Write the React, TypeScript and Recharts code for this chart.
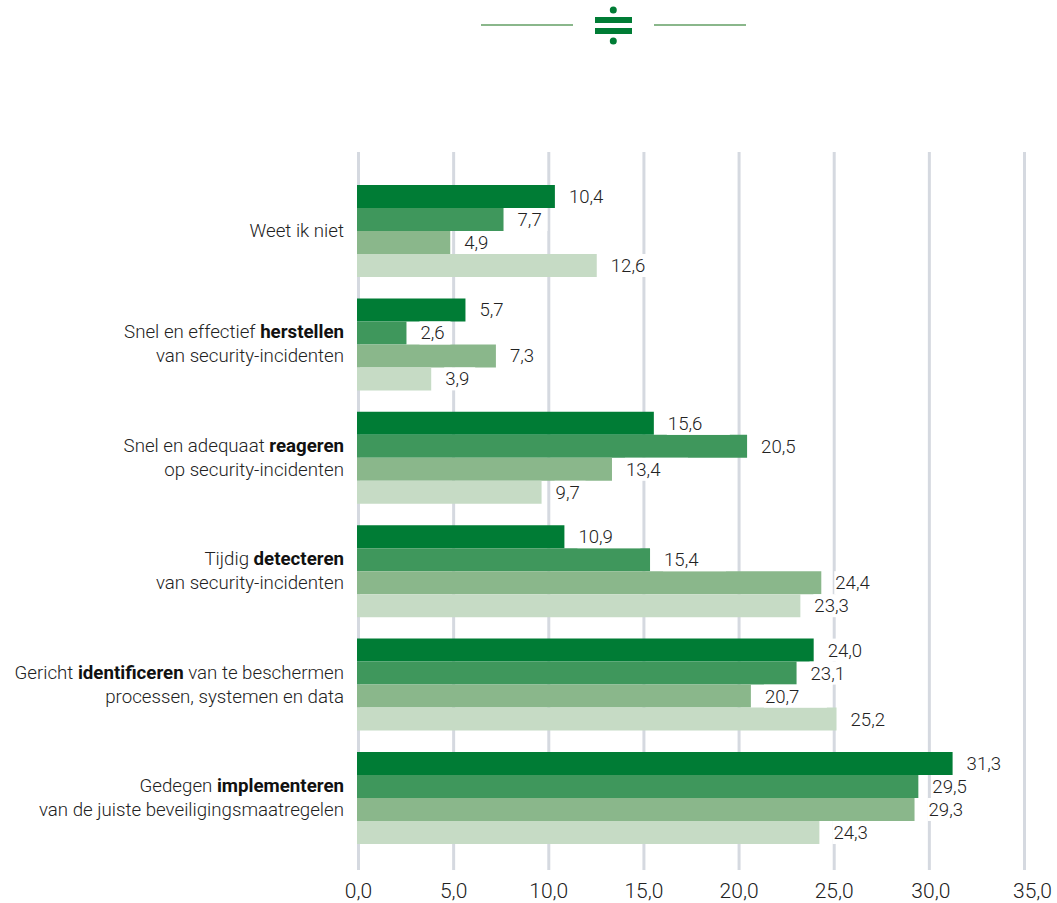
import { BarChart, Bar, XAxis, YAxis, CartesianGrid, LabelList, Rectangle } from "recharts";

const categories = [
  "Weet ik niet",
  "Snel en effectief *herstellen*|van security-incidenten",
  "Snel en adequaat *reageren*|op security-incidenten",
  "Tijdig *detecteren*|van security-incidenten",
  "Gericht *identificeren* van te beschermen|processen, systemen en data",
  "Gedegen *implementeren*|van de juiste beveiligingsmaatregelen",
];

const seriesA = [10.4, 5.7, 15.6, 10.9, 24.0, 31.3];
const seriesB = [7.7, 2.6, 20.5, 15.4, 23.1, 29.5];
const seriesC = [4.9, 7.3, 13.4, 24.4, 20.7, 29.3];
const seriesD = [12.6, 3.9, 9.7, 23.3, 25.2, 24.3];

const xTicks = [0, 5, 10, 15, 20, 25, 30, 35];

const colors = ["#007c35", "#3f975c", "#8ab78b", "#c6dbc5"];
const keys = ["a", "b", "c", "d"];

const data = categories.map((name, i) => ({
  name,
  a: seriesA[i],
  b: seriesB[i],
  c: seriesC[i],
  d: seriesD[i],
}));

const FONT = "Roboto, sans-serif";
const BAR_SHIFT = 1.5;
const fmt = (v: number) => v.toFixed(1).replace(".", ",");

// Bars sit slightly left of the grid, on the outer edge of the zero line
function BarShape(props: any) {
  const { x, y, width, height, fill } = props;
  return <Rectangle x={x - BAR_SHIFT} y={y} width={width} height={height} fill={fill} />;
}

// Value with a white plate behind it, the plate hides grid lines
function ValueLabel(props: any) {
  const { x, y, width, height, value } = props;
  const left = x - BAR_SHIFT + width + 13;
  // plate stops short of the last grid line
  const plateW = Math.min(value >= 10 ? 63 : 31, 1021 - left);
  return (
    <g>
      <rect x={left} y={y} width={plateW} height={height} fill="#fff" />
      <text
        x={left + 1}
        y={y + height / 2 + 6.5}
        fontFamily={FONT}
        fontWeight={300}
        fontSize={18.6}
        fill="#222"
      >
        {fmt(value)}
      </text>
    </g>
  );
}

// Category label: "|" breaks the line, *word* is bold
function CategoryTick(props: any) {
  const { y, payload } = props;
  const x = 344;
  const lines: string[] = String(payload.value).split("|");
  const startY = y + 6.5 - (lines.length - 1) * 12;
  return (
    <text x={x} y={startY} textAnchor="end" fontFamily={FONT} fontSize={18.7} fontWeight={300} fill="#222">
      {lines.map((line, i) => (
        <tspan key={i} x={x} y={startY + i * 24}>
          {line.split("*").map((part, j) => (
            <tspan key={j} fontWeight={j % 2 ? 700 : 300} fill={j % 2 ? "#111" : "#222"}>
              {part}
            </tspan>
          ))}
        </tspan>
      ))}
    </text>
  );
}

function ValueTick(props: any) {
  const { x, y, payload } = props;
  // last label sits a little right of its grid line
  const dx = payload.value === 35 ? 8 : payload.value === 30 ? 1.5 : 0;
  return (
    <text x={x + dx} y={y + 20} textAnchor="middle" fontFamily={FONT} fontSize={21} fontWeight={300} fill="#222">
      {fmt(payload.value)}
    </text>
  );
}

// Divider emblem above the chart
function Emblem() {
  return (
    <svg width={1057} height={60} style={{ position: "absolute", left: 0, top: 0 }}>
      <rect x={481} y={24} width={92} height={2} fill="#8ab78b" />
      <rect x={654} y={24} width={92} height={2} fill="#8ab78b" />
      <rect x={595} y={17} width={37} height={6} fill="#007c35" />
      <rect x={595} y={28} width={37} height={6} fill="#007c35" />
      <circle cx={613.3} cy={10} r={3.5} fill="#007c35" />
      <circle cx={613.3} cy={41} r={3.5} fill="#007c35" />
    </svg>
  );
}

export default function App() {
  return (
    <div style={{ position: "absolute", left: 0, top: 0, width: 1057, height: 903, background: "#fff" }}>
      <Emblem />
      <div style={{ position: "absolute", left: 0, top: 0 }}>
        <BarChart
          width={1057}
          height={903}
          data={data}
          layout="vertical"
          margin={{ top: 152, right: 32.5, bottom: 0, left: 0 }}
          barCategoryGap="9.88%"
          barGap={0}
        >
          <CartesianGrid horizontal={false} vertical stroke="#d5d9e0" strokeWidth={3} />
          <XAxis
            type="number"
            domain={[0, 35]}
            ticks={xTicks}
            axisLine={false}
            tickLine={false}
            tick={<ValueTick />}
            interval={0}
            height={33}
          />
          <YAxis
            type="category"
            dataKey="name"
            width={358.5}
            axisLine={false}
            tickLine={false}
            interval={0}
            padding={{ top: 21.8, bottom: 15.8 }}
            tick={<CategoryTick />}
          />
          {keys.map((key, i) => (
            <Bar key={key} dataKey={key} fill={colors[i]} isAnimationActive={false} shape={<BarShape />}>
              <LabelList dataKey={key} content={<ValueLabel />} />
            </Bar>
          ))}
        </BarChart>
      </div>
    </div>
  );
}
